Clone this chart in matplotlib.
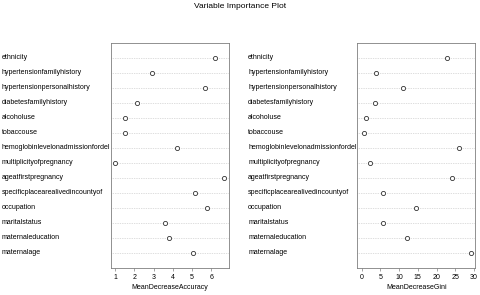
import matplotlib
matplotlib.use("Agg")
import matplotlib.pyplot as plt
from matplotlib.transforms import blended_transform_factory

plt.rcParams["font.family"] = ["Liberation Sans", "DejaVu Sans"]

# variables, top to bottom as shown
variables = [
    "ethnicity", "hypertensionfamilyhistory", "hypertensionpersonalhistory",
    "diabetesfamilyhistory", "alcoholuse", "tobaccouse",
    "hemoglobinlevelonadmissionfordel", "multiplicityofpregnancy",
    "ageatfirstpregnancy", "specificplacearealivedincountyof", "occupation",
    "maritalstatus", "maternaleducation", "maternalage",
]
mean_decrease_accuracy = [6.21, 2.91, 5.67, 2.13, 1.52, 1.50, 4.23, 1.00,
                          6.68, 5.13, 5.79, 3.62, 3.79, 5.03]
mean_decrease_gini = [22.7, 3.9, 11.1, 3.5, 1.07, 0.72, 26.1, 2.2,
                      24.2, 5.8, 14.4, 5.8, 12.0, 29.2]
acc_ticks = [1, 2, 3, 4, 5, 6]
gini_ticks = [0, 5, 10, 15, 20, 25, 30]

fig = plt.figure(figsize=(4.8, 2.95), dpi=100)
fig.text(0.5, 0.978, "Variable Importance Plot", ha="center", va="center", fontsize=6)

frame_col = "#7f7f7f"


def dotpanel(rect, values, ticks, xlabel, label_x, from_zero=False):
    ax = fig.add_axes(rect)
    n = len(values)
    ypos = list(range(n))[::-1]
    for y in ypos:
        ax.axhline(y, color="#bdbdbd", linestyle=(0, (1, 1.5)), linewidth=0.5, zorder=1)
    ax.plot(values, ypos, linestyle="none", marker="o", markersize=3,
            markerfacecolor="white", markeredgecolor="#333333",
            markeredgewidth=0.6, zorder=3)
    # like randomForest's varImpPlot: gini starts at 0, then 4% padding
    lo = 0 if from_zero else min(values)
    hi = max(values)
    pad = (hi - lo) * 0.04
    ax.set_xlim(lo - pad, hi + pad)
    ax.set_ylim(-1, n)
    ax.set_yticks([])
    ax.set_xticks(ticks)
    ax.tick_params(axis="x", labelsize=5, length=2.5, width=0.5,
                   color=frame_col, pad=2)
    ax.set_xlabel(xlabel, fontsize=5, labelpad=2)
    for s in ax.spines.values():
        s.set_color(frame_col)
        s.set_linewidth(0.6)
    tr = blended_transform_factory(fig.transFigure, ax.transData)
    for name, y in zip(variables, ypos):
        ax.text(label_x, y, name, transform=tr, ha="left", va="center",
                fontsize=5, clip_on=False)
    return ax


dotpanel([0.2306, 0.0915, 0.2459, 0.7638], mean_decrease_accuracy,
         acc_ticks, "MeanDecreaseAccuracy", 0.004)
dotpanel([0.7444, 0.0915, 0.2458, 0.7638], mean_decrease_gini,
         gini_ticks, "MeanDecreaseGini", 0.517, from_zero=True)

fig.savefig("out.png", dpi=100)
